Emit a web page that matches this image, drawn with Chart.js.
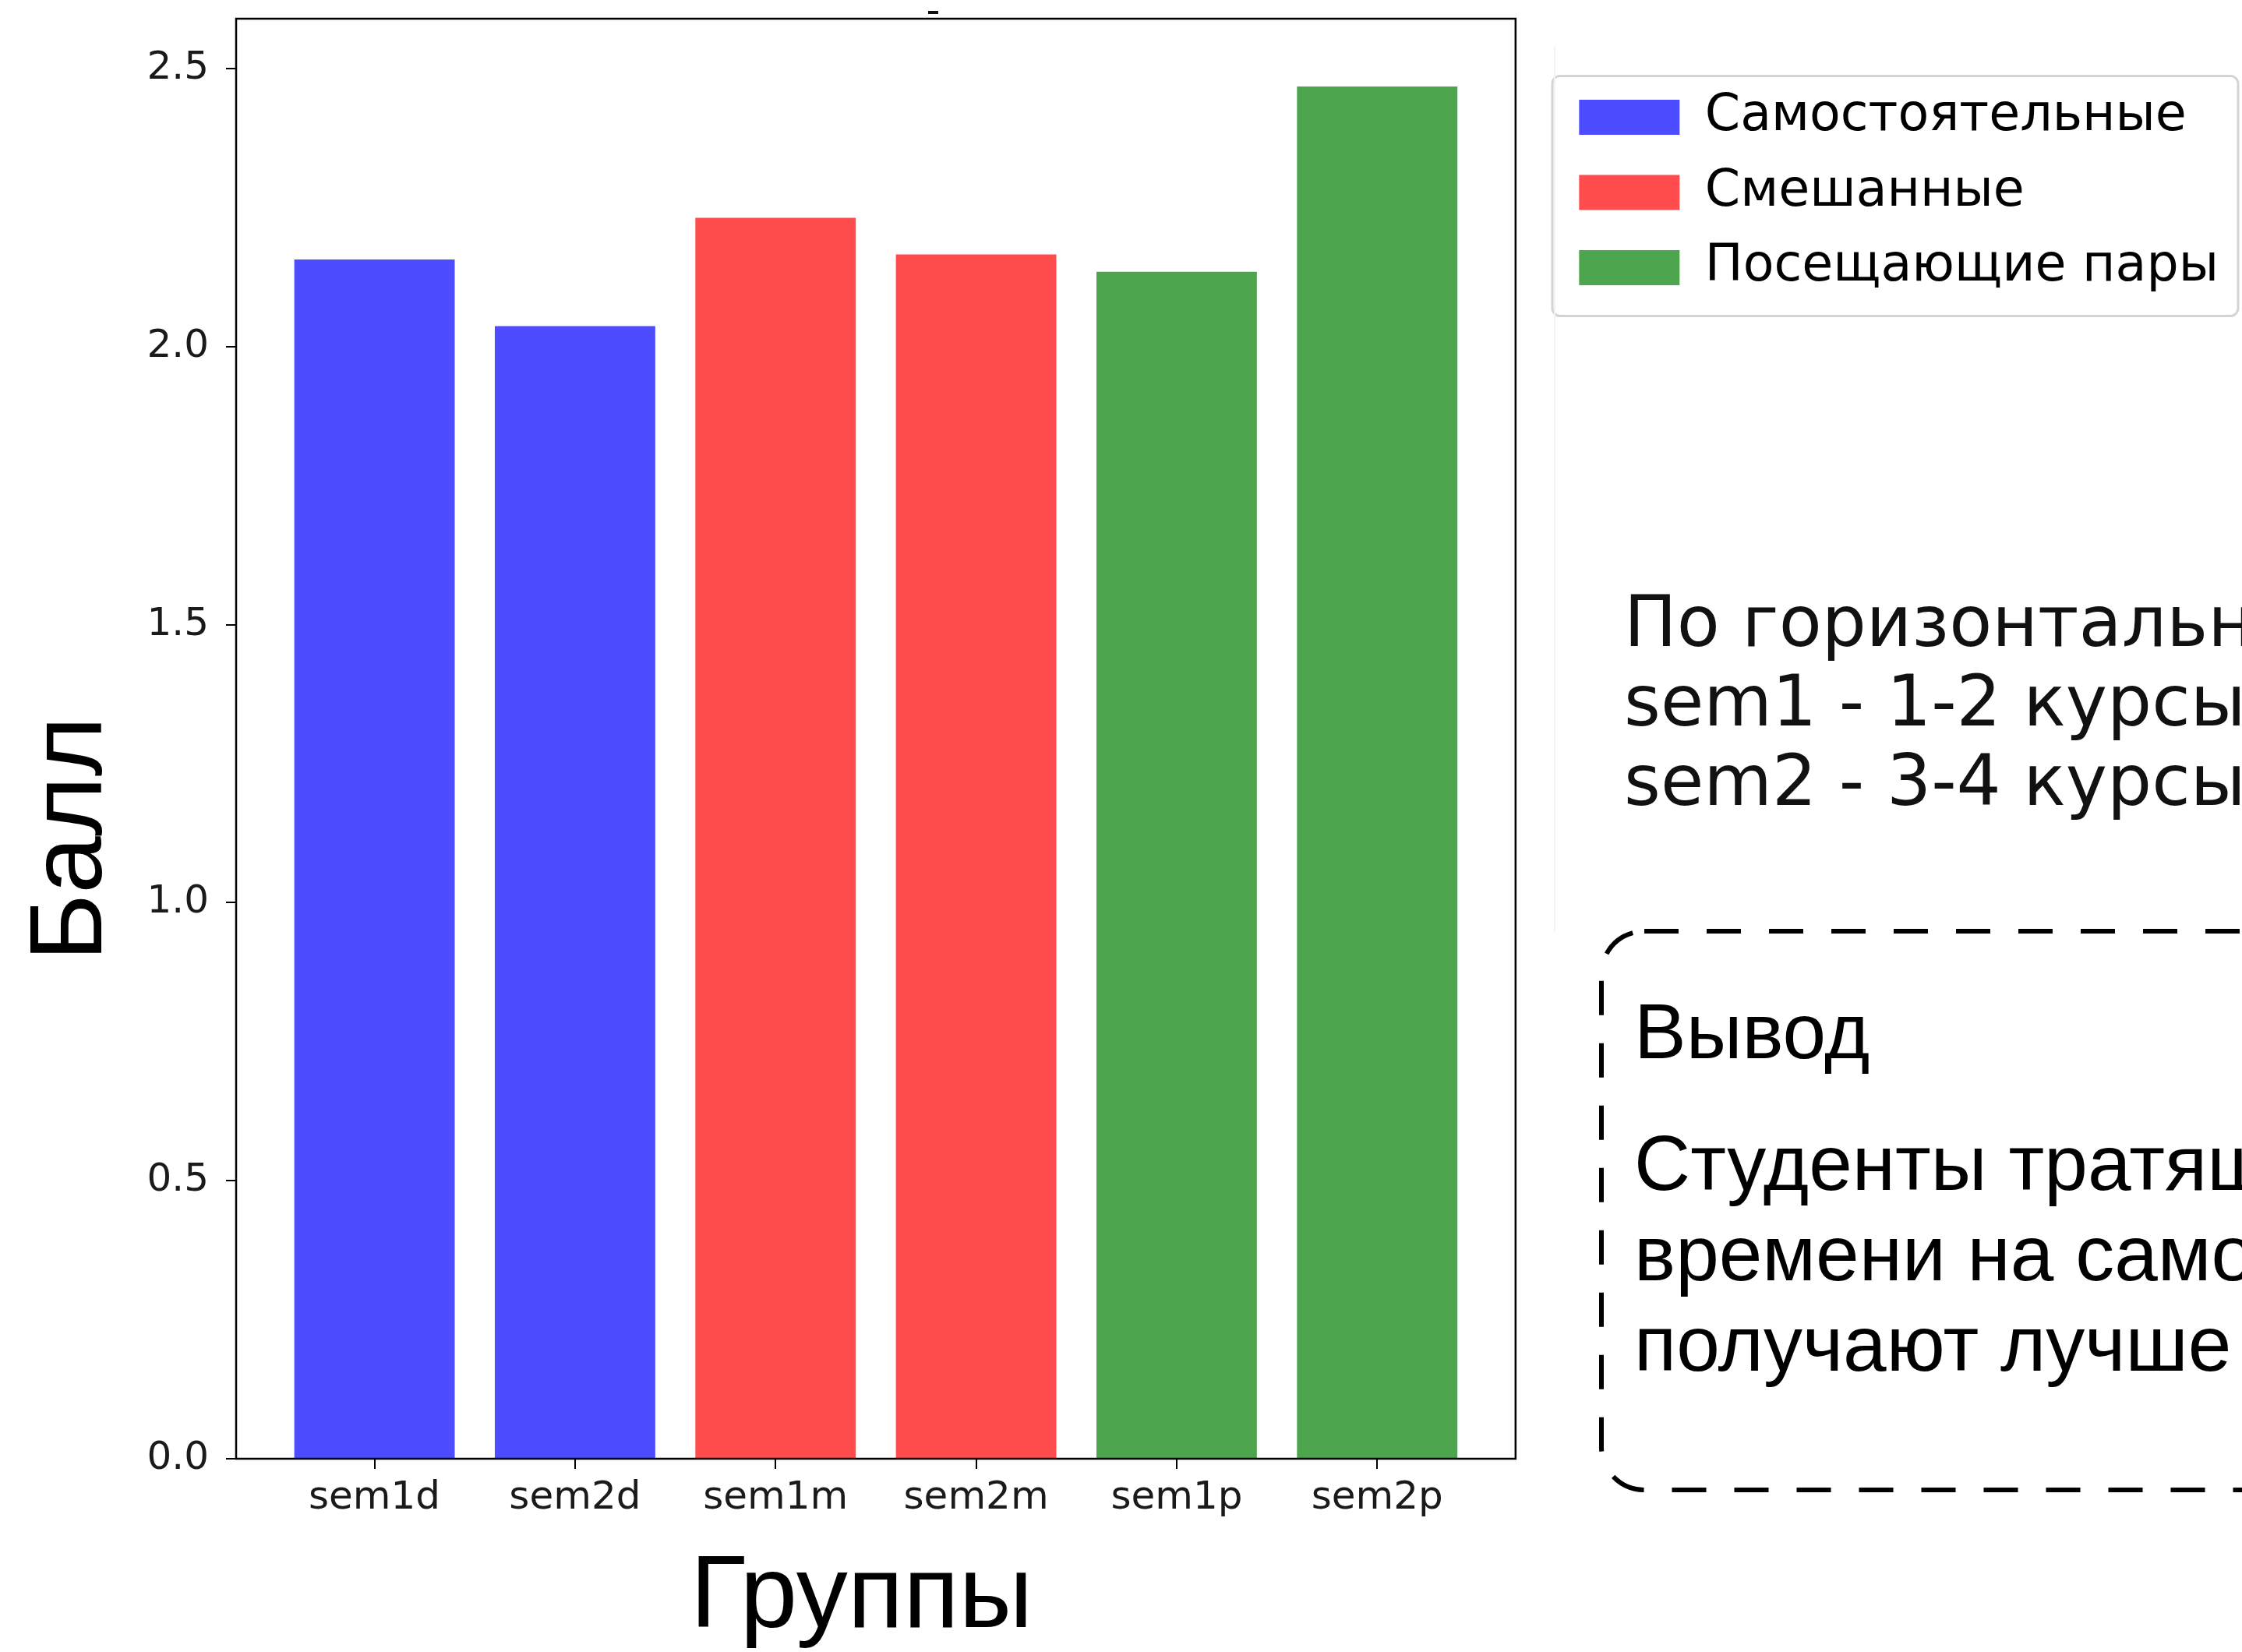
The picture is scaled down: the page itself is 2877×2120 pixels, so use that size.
<!DOCTYPE html>
<html>
<head>
<meta charset="utf-8">
<script src="https://cdn.jsdelivr.net/npm/chart.js@4.4.1/dist/chart.umd.min.js"></script>
<style>
  html, body { margin:0; padding:0; background:#fff; overflow:hidden; width:2877px; height:2120px; }
  #wrap { position:absolute; left:0; top:0; width:2877px; height:2120px; }
  .note { position:absolute; white-space:pre; }
</style>
</head>
<body>
<div id="wrap"><canvas id="c"></canvas></div>
<div style="position:absolute;left:1994px;top:60px;width:2px;height:1135px;background:#f3f3f3;"></div>
<div style="position:absolute;left:1191px;top:14px;width:13px;height:4px;background:#111;"></div>
<div class="note" style="left:2084px;top:747px;font-family:'DejaVu Sans';font-size:90px;line-height:102px;color:#111;">По горизонтальной
sem1 - 1-2 курсы
sem2 - 3-4 курсы</div>
<svg style="position:absolute;left:0;top:0;" width="2877" height="2120">
  <rect x="2055" y="1195" width="1200" height="717" rx="55" ry="55" fill="none" stroke="#000" stroke-width="6" stroke-dasharray="44 36"/>
</svg>
<div class="note" style="left:2097px;top:1266px;font-family:'Liberation Sans';font-size:100px;line-height:115px;color:#000;">Вывод</div>
<div class="note" style="left:2097px;top:1434px;font-family:'Liberation Sans';font-size:100px;line-height:116px;color:#000;">Студенты тратящие
времени на самостоятельную
получают лучше</div>
<script>
const categories = ['sem1d', 'sem2d', 'sem1m', 'sem2m', 'sem1p', 'sem2p'];
const scores = [2.157, 2.037, 2.232, 2.166, 2.135, 2.468];
const groupOf = [0, 0, 1, 1, 2, 2];
const groupNames = ['Самостоятельные', 'Смешанные', 'Посещающие пары'];
const groupColors = ['#4d4dff', '#ff4d4d', '#4da64d'];
const yTicks = [0, 0.5, 1.0, 1.5, 2.0, 2.5];
const xTitle = 'Группы';
const yTitle = 'Балл';

const datasets = groupNames.map((name, g) => ({
  label: name,
  data: categories.map((c, i) => (groupOf[i] === g ? { x: i, y: scores[i] } : null)).filter(Boolean),
  backgroundColor: groupColors[g],
  borderWidth: 0,
  grouped: false,
  barPercentage: 0.8,
  categoryPercentage: 1.0
}));

const tickGrid = { display: true, offset: false, drawOnChartArea: false, drawTicks: true, tickLength: 13, color: '#000', lineWidth: 2 };
const tickFont = { family: 'DejaVu Sans', size: 50 };

const framePlugin = {
  id: 'frame',
  afterDatasetsDraw(chart) {
    const { ctx, chartArea: a } = chart;
    ctx.save();
    ctx.strokeStyle = '#000';
    ctx.lineWidth = 2.5;
    ctx.strokeRect(a.left, a.top, a.right - a.left, a.bottom - a.top);
    ctx.restore();
  }
};

const legendFramePlugin = {
  id: 'legendFrame',
  afterDraw(chart) {
    const l = chart.legend;
    if (!l) return;
    const pad = l.options.labels.padding;
    const x0 = l.right - 865;
    const y0 = l.top + l._computeTitleHeight() + pad - 20.5;
    const ctx = chart.ctx;
    ctx.save();
    ctx.strokeStyle = '#d4d4d4';
    ctx.lineWidth = 3;
    ctx.beginPath();
    ctx.roundRect(x0, y0, 880, 308, 10);
    ctx.stroke();
    ctx.restore();
  }
};

new Chart(document.getElementById('c'), {
  type: 'bar',
  data: { datasets },
  plugins: [framePlugin, legendFramePlugin],
  options: {
    responsive: true,
    maintainAspectRatio: false,
    devicePixelRatio: 1,
    animation: false,
    layout: { padding: { top: 24, right: 20, bottom: 0, left: 0 } },
    plugins: {
      tooltip: { enabled: false },
      legend: {
        position: 'right',
        align: 'start',
        fullSize: false,
        maxWidth: 2000,
        title: { display: true, text: '', font: { size: 1, lineHeight: 1 }, padding: { top: 61.5, bottom: 0 } },
        labels: {
          boxWidth: 129,
          boxHeight: 45,
          padding: 31.5,
          color: '#000',
          font: { family: 'DejaVu Sans', size: 65 }
        }
      }
    },
    scales: {
      x: {
        type: 'linear',
        offset: false,
        min: -0.69,
        max: 5.69,
        afterBuildTicks: s => { s.ticks = categories.map((_, i) => ({ value: i })); },
        ticks: {
          callback: (v, i) => categories[i],
          font: tickFont,
          color: '#1a1a1a',
          padding: 8,
          maxRotation: 0,
          autoSkip: false
        },
        grid: tickGrid,
        border: { display: false },
        title: {
          display: true,
          text: xTitle + ' ',
          font: { family: 'Liberation Sans', size: 132, lineHeight: 1 },
          color: '#000',
          padding: { top: 0, bottom: 2 }
        },
        afterFit: s => { s.height = 248; s.paddingLeft = 0; s.paddingRight = 0; }
      },
      y: {
        type: 'linear',
        min: 0,
        max: 2.59,
        afterBuildTicks: s => { s.ticks = yTicks.map(v => ({ value: v })); },
        ticks: {
          callback: v => Number(v).toFixed(1),
          font: tickFont,
          color: '#1a1a1a',
          padding: 22
        },
        grid: tickGrid,
        border: { display: false },
        title: {
          display: true,
          text: yTitle + ' '.repeat(7),
          font: { family: 'Liberation Sans', size: 132, lineHeight: 1 },
          color: '#000',
          padding: { top: 28, bottom: 0 }
        },
        afterFit: s => { s.width = 303; s.paddingTop = 0; s.paddingBottom = 0; }
      },
      spacer: {
        type: 'linear',
        position: 'right',
        display: true,
        ticks: { display: false },
        grid: { display: false, drawTicks: false },
        border: { display: false },
        afterFit: s => { s.width = 50; s.paddingTop = 0; s.paddingBottom = 0; }
      }
    }
  }
});
</script>
</body>
</html>
